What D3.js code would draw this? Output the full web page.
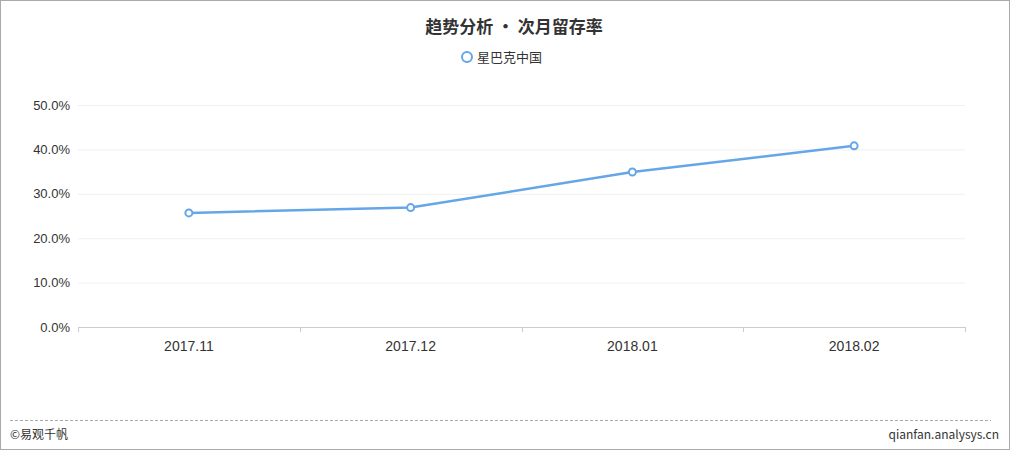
<!DOCTYPE html>
<html><head><meta charset="utf-8">
<script src="https://cdn.jsdelivr.net/npm/d3@7"></script>
<style>
html,body{margin:0;padding:0;background:#fff;}
svg{display:block;font-family:"Noto Sans CJK SC","Microsoft YaHei",sans-serif;}
</style></head><body>
<svg id="c" width="1010" height="450"></svg>
<script>
const title = "趋势分析 • 次月留存率";
const seriesName = "星巴克中国";
const categories = ["2017.11", "2017.12", "2018.01", "2018.02"];
const values = [0.257, 0.269, 0.349, 0.408];
const yTicks = [0, 0.1, 0.2, 0.3, 0.4, 0.5];

const svg = d3.select("#c");
const W = 1010, H = 450;
const color = "#65a6e8";
const m = {left: 78, right: 965, top: 105, bottom: 327};

svg.append("rect").attr("x",0.5).attr("y",0.5).attr("width",W-1).attr("height",H-1)
  .attr("fill","#fff").attr("stroke","#aaa");

svg.append("text").attr("x",514).attr("y",33).attr("text-anchor","middle")
  .attr("font-size",17).attr("font-weight","bold").attr("fill","#333").text(title);

const lg = svg.append("g");
lg.append("circle").attr("cx",467).attr("cy",57).attr("r",5).attr("fill","#fff")
  .attr("stroke",color).attr("stroke-width",2);
lg.append("text").attr("x",477).attr("y",62).attr("font-size",13).attr("fill","#333").text(seriesName);

const x = d3.scaleBand().domain(categories).range([m.left, m.right]);
const y = d3.scaleLinear().domain([0, 0.5]).range([m.bottom, m.top]);

const yAxis = svg.append("g").attr("transform",`translate(${m.left},0)`)
  .call(d3.axisLeft(y).tickValues(yTicks).tickFormat(d3.format(".1%")).tickSize(-(m.right-m.left)).tickPadding(8));
yAxis.select(".domain").remove();
yAxis.selectAll("line").attr("stroke","#f0f0f0");
yAxis.selectAll("text").attr("font-size",13).attr("fill","#333");

const xAxis = svg.append("g").attr("transform",`translate(0,${m.bottom})`)
  .call(d3.axisBottom(x).tickSize(0).tickPadding(14));
xAxis.select(".domain").attr("stroke","#ccc");
xAxis.selectAll("text").attr("font-size",14).attr("fill","#333");
// boundary ticks
const bounds = categories.map(c => x(c)).concat([m.right]);
svg.append("g").selectAll("line").data(bounds).join("line")
  .attr("x1",d=>Math.round(d)+0.5).attr("x2",d=>Math.round(d)+0.5)
  .attr("y1",m.bottom).attr("y2",m.bottom+5).attr("stroke","#ccc");

const cx = c => x(c) + x.bandwidth()/2;
svg.append("path").datum(values)
  .attr("d", d3.line().x((d,i)=>cx(categories[i])).y(d=>y(d)))
  .attr("fill","none").attr("stroke",color).attr("stroke-width",2.5);
svg.append("g").selectAll("circle").data(values).join("circle")
  .attr("cx",(d,i)=>cx(categories[i])).attr("cy",d=>y(d)).attr("r",3.5)
  .attr("fill","#fff").attr("stroke",color).attr("stroke-width",2);

svg.append("line").attr("x1",10).attr("x2",991).attr("y1",420.5).attr("y2",420.5)
  .attr("stroke","#aaa").attr("stroke-dasharray","3,2");
svg.append("text").attr("x",10).attr("y",439).attr("font-size",12).attr("fill","#333").text("©易观千帆");
svg.append("text").attr("x",999).attr("y",439).attr("text-anchor","end").attr("font-size",12).attr("fill","#333").text("qianfan.analysys.cn");
</script></body></html>
